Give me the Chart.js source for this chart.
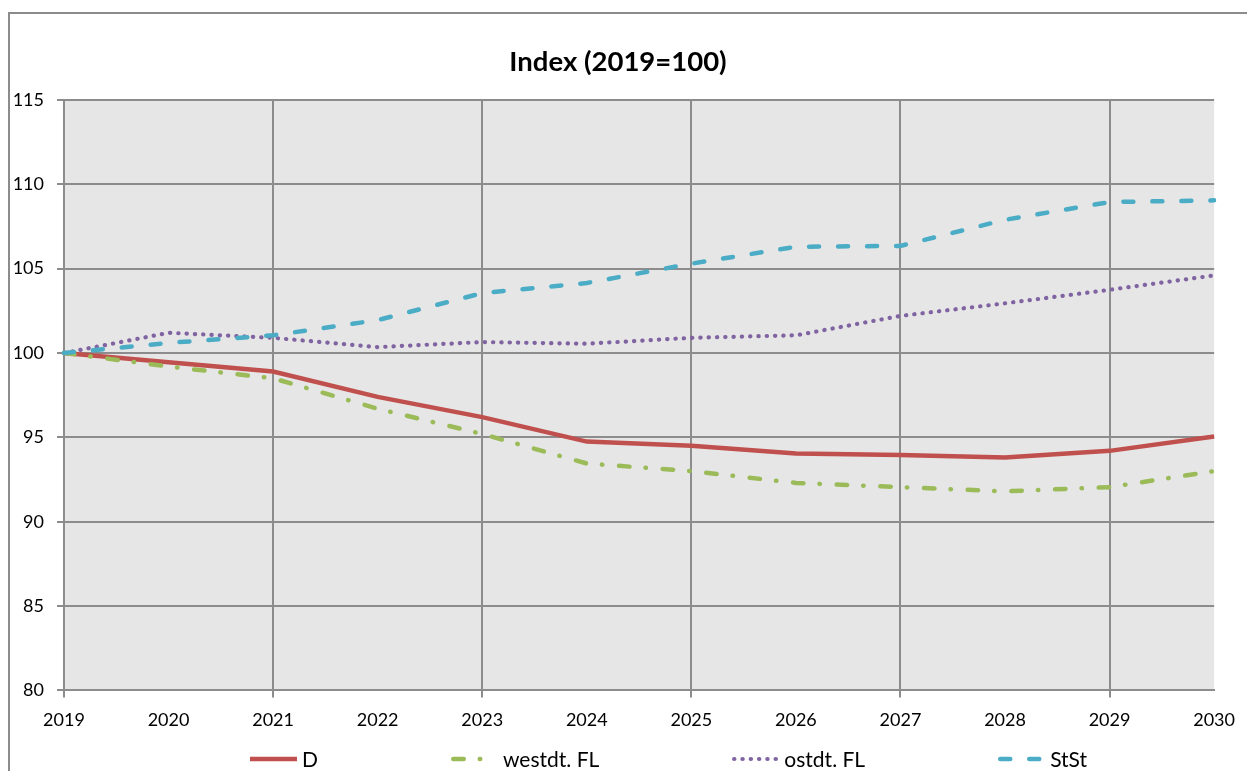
<!DOCTYPE html>
<html>
<head>
<meta charset="utf-8">
<script src="https://cdn.jsdelivr.net/npm/chart.js@4"></script>
<style>
  html, body { margin: 0; padding: 0; background: #fff; overflow: hidden; }
  #frame {
    position: absolute; left: 8px; top: 12px; width: 1300px; height: 800px;
    border: 2px solid #8c8c8c; box-sizing: border-box;
  }
  #myChart { position: absolute; left: 0; top: 0; }
  #title {
    position: absolute; left: 0; top: 45px; width: 1236px; line-height: 32px;
    text-align: center; font-family: Lato, sans-serif; font-weight: bold; font-size: 27.5px; color: #000;
  }
  #legend {
    position: absolute; left: 250px; top: 746px; height: 26px;
    display: flex; gap: 133px; font-family: Lato, sans-serif; font-size: 21px; color: #000;
  }
  .legend-item { display: flex; align-items: center; line-height: 26px; white-space: nowrap; }
  .legend-item svg { margin-right: 5px; }
</style>
</head>
<body>
<div id="frame"></div>
<canvas id="myChart" width="1247" height="771"></canvas>
<div id="title"></div>
<div id="legend"></div>
<script>
// data
const years = ['2019', '2020', '2021', '2022', '2023', '2024', '2025', '2026', '2027', '2028', '2029', '2030'];
const valuesD      = [100, 99.45, 98.9, 97.4, 96.2, 94.75, 94.5, 94.05, 93.95, 93.8, 94.2, 95.05];
const valuesWest   = [100, 99.2, 98.5, 96.7, 95.2, 93.45, 93.0, 92.3, 92.05, 91.8, 92.05, 93.0];
const valuesOst    = [100, 101.2, 100.9, 100.35, 100.65, 100.55, 100.9, 101.05, 102.2, 102.95, 103.75, 104.6];
const valuesStSt   = [100, 100.6, 101.05, 101.95, 103.55, 104.15, 105.3, 106.3, 106.35, 107.9, 108.95, 109.05];
const seriesNames  = ['D', 'westdt. FL', 'ostdt. FL', 'StSt'];
const yMin = 80, yMax = 115, yStep = 5;
const titleText = 'Index (2019=100)';

const gridGray = '#8c8c8c';

Chart.defaults.font.family = 'Lato, sans-serif';
Chart.defaults.color = '#000';

// grey plot area like the excel chart
const plotBg = {
  id: 'plotBg',
  beforeDraw(chart) {
    const ctx = chart.ctx;
    const a = chart.chartArea;
    ctx.save();
    ctx.fillStyle = '#e6e6e6';
    ctx.fillRect(a.left, a.top, a.right - a.left, a.bottom - a.top);
    ctx.restore();
  }
};

document.addEventListener("DOMContentLoaded", function() {
    document.getElementById('title').textContent = titleText;

    var ctx = document.getElementById('myChart').getContext('2d');
    var config = {
        type: 'line',
        data: {
            labels: years,
            datasets: [{
                label: seriesNames[0],
                data: valuesD,
                borderColor: '#c0504d',
                borderWidth: 4.5,
                order: 3,
            }, {
                label: seriesNames[1],
                data: valuesWest,
                borderColor: '#9bbb59',
                borderWidth: 4.5,
                borderDash: [10.5, 16, 0.5, 16.7],
                borderCapStyle: 'round',
                order: 2,
            }, {
                label: seriesNames[2],
                data: valuesOst,
                borderColor: '#8064a2',
                borderWidth: 4.2,
                borderDash: [0.3, 8],
                borderCapStyle: 'round',
                order: 1,
            }, {
                label: seriesNames[3],
                data: valuesStSt,
                borderColor: '#4bacc6',
                borderWidth: 4.5,
                borderDash: [10, 19],
                borderCapStyle: 'round',
                order: 0,
            }]
        },
        options: {
            responsive: false,
            animation: false,
            devicePixelRatio: 1,
            layout: { padding: { left: 4, right: 32, top: 100, bottom: 28 } },
            elements: {
                point: { radius: 0, hoverRadius: 0 },
                line: { tension: 0, fill: false }
            },
            plugins: {
                legend: { display: false },
                tooltip: { enabled: false },
                title: { display: false }
            },
            scales: {
                x: {
                    offset: false,
                    border: { display: true, color: gridGray, width: 2 },
                    grid: {
                        color: (c) => (c.index % 2 === 0 ? gridGray : 'rgba(0,0,0,0)'),
                        lineWidth: 2,
                        drawTicks: true,
                        tickLength: 7
                    },
                    ticks: {
                        autoSkip: false,
                        maxRotation: 0,
                        padding: 12,
                        font: { size: 18 }
                    }
                },
                y: {
                    min: yMin,
                    max: yMax,
                    border: { display: true, color: gridGray, width: 2 },
                    grid: { color: gridGray, lineWidth: 2, tickLength: 7 },
                    ticks: {
                        stepSize: yStep,
                        padding: 13,
                        font: { size: 18 }
                    },
                    afterFit: (scale) => { scale.width = 60; }
                }
            }
        },
        plugins: [plotBg]
    };

    var myChart = new Chart(ctx, config);

    // html legend, spread out like the original
    const legendBox = document.getElementById('legend');
    myChart.data.datasets.forEach((ds) => {
        const item = document.createElement('div');
        item.className = 'legend-item';
        const dash = ds.borderDash ? ds.borderDash.join(' ') : '';
        const cap = ds.borderCapStyle === 'round' ? 'round' : 'butt';
        const x1 = cap === 'round' ? ds.borderWidth / 2 : 0;
        const x2 = cap === 'round' ? 47 - ds.borderWidth / 2 : 47;
        item.innerHTML =
            `<svg width="47" height="26"><line x1="${x1}" y1="13" x2="${x2}" y2="13" stroke="${ds.borderColor}" ` +
            `stroke-width="${ds.borderWidth}" stroke-linecap="${cap}"${dash ? ` stroke-dasharray="${dash}"` : ''}/></svg>` +
            `<span>${ds.label}</span>`;
        legendBox.appendChild(item);
    });
});
</script>
</body>
</html>
